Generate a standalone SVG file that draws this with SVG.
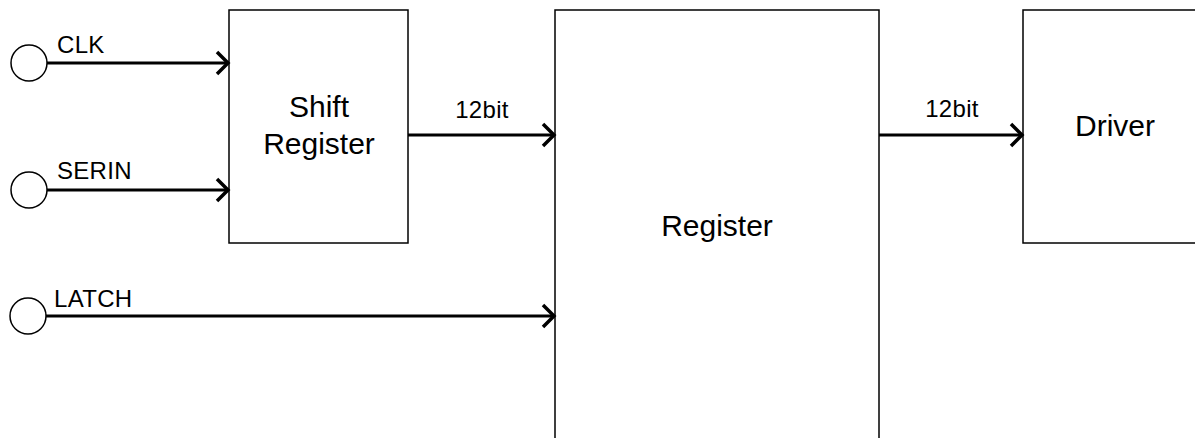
<svg xmlns="http://www.w3.org/2000/svg" width="1195" height="438" viewBox="0 0 1195 438">
<style>
.box{fill:#fff;stroke:#000;stroke-width:1.5}
.pin{fill:#fff;stroke:#000;stroke-width:1.5}
.wire{fill:none;stroke:#000;stroke-width:3}
.lbl{font-family:"Liberation Sans",Arial,sans-serif;font-size:24px;letter-spacing:0.3px;fill:#000}
.big{font-family:"Liberation Sans",Arial,sans-serif;font-size:30px;fill:#000;text-anchor:middle}
</style>
<defs>
<marker id="arr" markerUnits="userSpaceOnUse" markerWidth="20" markerHeight="30" refX="14" refY="12" orient="auto" overflow="visible">
<path d="M2,1 L13,12 L2,23" fill="none" stroke="#000" stroke-width="3.5"/>
</marker>
</defs>
<rect width="1195" height="438" fill="#fff"/>
<g id="shift-register">
<rect class="box" x="229" y="10" width="179" height="233"/>
<text class="big" x="319" y="117">Shift</text>
<text class="big" x="319" y="154">Register</text>
</g>
<g id="register">
<rect class="box" x="555" y="10" width="324" height="440"/>
<text class="big" x="717" y="236">Register</text>
</g>
<g id="driver">
<rect class="box" x="1023" y="10" width="186" height="233"/>
<text class="big" x="1115" y="136">Driver</text>
</g>
<g id="clk">
<circle class="pin" cx="29" cy="63" r="18"/>
<text class="lbl" x="57" y="53">CLK</text>
</g>
<g id="serin">
<circle class="pin" cx="29" cy="190" r="18"/>
<text class="lbl" x="57" y="179">SERIN</text>
</g>
<g id="latch">
<circle class="pin" cx="28" cy="316" r="18"/>
<text class="lbl" x="54" y="307">LATCH</text>
</g>
<g id="connectors">
<line class="wire" x1="47" y1="63" x2="229" y2="63" marker-end="url(#arr)"/>
<line class="wire" x1="47" y1="190" x2="229" y2="190" marker-end="url(#arr)"/>
<line class="wire" x1="46" y1="316" x2="555" y2="316" marker-end="url(#arr)"/>
<line class="wire" x1="408" y1="135" x2="555" y2="135" marker-end="url(#arr)"/>
<line class="wire" x1="879" y1="135" x2="1023" y2="135" marker-end="url(#arr)"/>
<text class="lbl" x="482" y="118" text-anchor="middle">12bit</text>
<text class="lbl" x="952" y="117" text-anchor="middle">12bit</text>
</g>
</svg>
